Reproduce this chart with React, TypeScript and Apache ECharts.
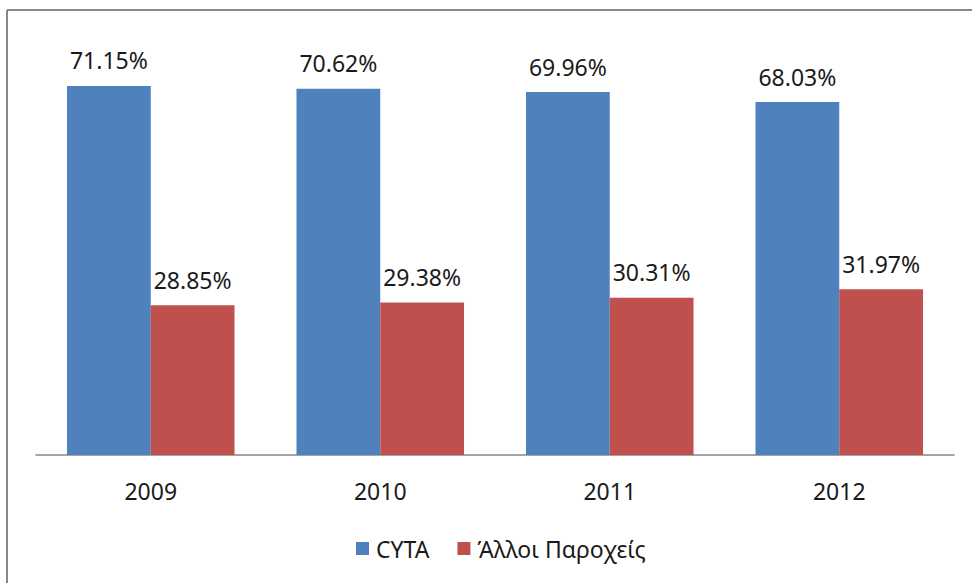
import React, { useEffect, useRef } from "react";
import * as echarts from "echarts";

const years = ["2009", "2010", "2011", "2012"];
const cyta = [71.15, 70.62, 69.96, 68.03];
const others = [28.85, 29.38, 30.31, 31.97];
const seriesNames = ["CYTA", "Άλλοι Παροχείς"];

const FONT = "Noto Sans";

export default function App() {
  const ref = useRef<HTMLDivElement>(null);
  useEffect(() => {
    const chart = echarts.init(ref.current!, null, { renderer: "svg" });
    const label = {
      show: true,
      position: "top" as const,
      distance: 14,
      fontFamily: FONT,
      fontSize: 23,
      color: "#1a1a1a",
      formatter: (p: any) => p.value.toFixed(2) + "%",
    };
    chart.setOption({
      animation: false,
      backgroundColor: "#fff",
      textStyle: { fontFamily: FONT },
      graphic: [
        { type: "line", shape: { x1: 7, y1: 10, x2: 972, y2: 10 }, style: { stroke: "#888", lineWidth: 2 } },
        { type: "line", shape: { x1: 7, y1: 10, x2: 7, y2: 583 }, style: { stroke: "#888", lineWidth: 2 } },
      ],
      grid: { left: 36, right: 18, top: 40, bottom: 128 },
      legend: {
        data: seriesNames,
        bottom: 18,
        left: 351,
        itemWidth: 13,
        itemHeight: 13,
        itemGap: 28,
        icon: "rect",
        textStyle: { fontFamily: FONT, fontSize: 23, color: "#1a1a1a", padding: [0, 0, 0, 2] },
      },
      xAxis: {
        type: "category",
        data: years,
        axisLine: { lineStyle: { color: "#868686", width: 1.5 } },
        axisTick: { show: false },
        axisLabel: { fontFamily: FONT, fontSize: 23, color: "#1a1a1a", margin: 24 },
      },
      yAxis: {
        type: "value",
        min: 0,
        max: 80,
        show: false,
        splitLine: { show: false },
      },
      series: [
        {
          name: seriesNames[0],
          type: "bar",
          data: cyta,
          barGap: "0%",
          barCategoryGap: "27%",
          itemStyle: { color: "#4F81BD" },
          label,
        },
        {
          name: seriesNames[1],
          type: "bar",
          data: others,
          itemStyle: { color: "#C0504D" },
          label,
        },
      ],
    });
    return () => chart.dispose();
  }, []);
  return (
    <div
      ref={ref}
      style={{ position: "fixed", left: 0, top: 0, width: 972, height: 583 }}
    />
  );
}
